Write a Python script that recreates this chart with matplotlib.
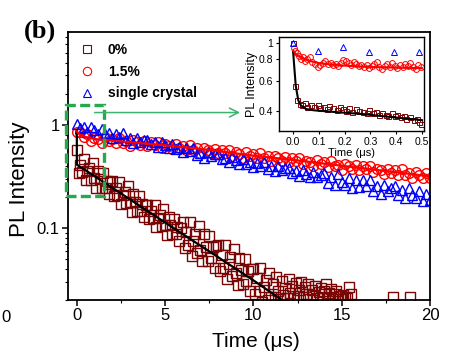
import matplotlib
matplotlib.use("Agg")
import matplotlib.pyplot as plt
from matplotlib import ticker
from matplotlib.patches import Rectangle

plt.rcParams['font.family'] = ['Liberation Sans', 'DejaVu Sans']

# ---- main panel data (time in us, normalised PL intensity) ----
# 0% sample
t_0 = [0.0, 0.1, 0.2, 0.3, 0.4, 0.5, 0.6, 0.7, 0.8, 0.9,
       1.0, 1.1, 1.2, 1.3, 1.4, 1.5, 1.6, 1.7, 1.8, 1.9,
       2.0, 2.1, 2.2, 2.3, 2.4, 2.5, 2.6, 2.7, 2.8, 2.9,
       3.0, 3.1, 3.2, 3.3, 3.4, 3.5, 3.6, 3.7, 3.8, 3.9,
       4.0, 4.1, 4.2, 4.3, 4.4, 4.5, 4.6, 4.7, 4.8, 4.9,
       5.0, 5.1, 5.2, 5.3, 5.4, 5.5, 5.6, 5.7, 5.8, 5.9,
       6.0, 6.1, 6.2, 6.3, 6.4, 6.5, 6.6, 6.7, 6.8, 6.9,
       7.0, 7.1, 7.2, 7.3, 7.4, 7.5, 7.6, 7.7, 7.8, 7.9,
       8.0, 8.1, 8.2, 8.3, 8.4, 8.5, 8.6, 8.7, 8.8, 8.9,
       9.0, 9.1, 9.2, 9.3, 9.4, 9.5, 9.6, 9.7, 9.8, 9.9,
       10.0, 10.1, 10.2, 10.3, 10.4, 10.5, 10.6, 10.7, 10.8, 10.9,
       11.0, 11.1, 11.2, 11.3, 11.4, 11.5, 11.6, 11.7, 11.8, 11.9,
       12.0, 12.1, 12.2, 12.3, 12.4, 12.5, 12.6, 12.7, 12.8, 12.9,
       13.0, 13.1, 13.2, 13.3, 13.4, 13.5, 13.6, 13.7, 13.8, 13.9,
       14.0, 14.1, 14.2, 14.3, 14.4, 14.5, 14.6, 14.7, 14.8, 14.9,
       15.0, 15.1, 15.2, 15.3, 15.4, 15.5, 17.9, 18.85]
pl_0 = [0.57, 0.340, 0.410, 0.350, 0.463, 0.289, 0.352, 0.377, 0.294, 0.423,
        0.301, 0.241, 0.355, 0.299, 0.246, 0.340, 0.245, 0.286, 0.212, 0.281,
        0.282, 0.203, 0.245, 0.209, 0.276, 0.172, 0.210, 0.224, 0.175, 0.252,
        0.180, 0.144, 0.212, 0.179, 0.147, 0.203, 0.146, 0.171, 0.126, 0.168,
        0.168, 0.121, 0.146, 0.124, 0.165, 0.102, 0.125, 0.134, 0.105, 0.151,
        0.107, 0.0858, 0.126, 0.107, 0.0877, 0.121, 0.0873, 0.102, 0.0754, 0.100,
        0.114, 0.0639, 0.0913, 0.0688, 0.114, 0.0538, 0.0749, 0.0876, 0.0569, 0.104,
        0.0608, 0.0474, 0.0865, 0.0656, 0.0475, 0.0830, 0.0509, 0.0647, 0.0406, 0.0669,
        0.0677, 0.0381, 0.0545, 0.0410, 0.0682, 0.0321, 0.0446, 0.0522, 0.0339, 0.0620,
        0.0362, 0.0282, 0.0516, 0.0391, 0.0283, 0.0496, 0.0304, 0.0386, 0.0242, 0.0399,
        0.0403, 0.0227, 0.0325, 0.0244, 0.0406, 0.0190, 0.0266, 0.0311, 0.0202, 0.0369,
        0.0215, 0.0285, 0.0215, 0.0335, 0.0245, 0.0205, 0.0305, 0.0225, 0.0262, 0.0210,
        0.0318, 0.0232, 0.0272, 0.0208, 0.0295, 0.0218, 0.0248, 0.0302, 0.0212, 0.0265,
        0.0228, 0.0285, 0.0206, 0.0252, 0.0222, 0.0275, 0.0210, 0.0238, 0.0262, 0.0214,
        0.0245, 0.0285, 0.0209, 0.0232, 0.0255, 0.0212, 0.0228, 0.0242, 0.0206, 0.0218,
        0.0204, 0.0225, 0.0212, 0.0208, 0.0268, 0.0228, 0.0215, 0.0212]

# 1.5% sample and single crystal share the same time grid
t_grid = [0.0, 0.2, 0.4, 0.6, 0.8, 1.0, 1.2, 1.4, 1.6, 1.8,
          2.0, 2.2, 2.4, 2.6, 2.8, 3.0, 3.2, 3.4, 3.6, 3.8,
          4.0, 4.2, 4.4, 4.6, 4.8, 5.0, 5.2, 5.4, 5.6, 5.8,
          6.0, 6.2, 6.4, 6.6, 6.8, 7.0, 7.2, 7.4, 7.6, 7.8,
          8.0, 8.2, 8.4, 8.6, 8.8, 9.0, 9.2, 9.4, 9.6, 9.8,
          10.0, 10.2, 10.4, 10.6, 10.8, 11.0, 11.2, 11.4, 11.6, 11.8,
          12.0, 12.2, 12.4, 12.6, 12.8, 13.0, 13.2, 13.4, 13.6, 13.8,
          14.0, 14.2, 14.4, 14.6, 14.8, 15.0, 15.2, 15.4, 15.6, 15.8,
          16.0, 16.2, 16.4, 16.6, 16.8, 17.0, 17.2, 17.4, 17.6, 17.8,
          18.0, 18.2, 18.4, 18.6, 18.8, 19.0, 19.2, 19.4, 19.6, 19.8, 20.0]
pl_15 = [0.840, 0.840, 0.762, 0.803, 0.696, 0.747, 0.720, 0.665, 0.753, 0.691,
         0.728, 0.660, 0.745, 0.664, 0.694, 0.622, 0.705, 0.673, 0.628, 0.695,
         0.625, 0.679, 0.636, 0.683, 0.596, 0.649, 0.624, 0.576, 0.650, 0.595,
         0.626, 0.566, 0.638, 0.567, 0.592, 0.529, 0.597, 0.570, 0.531, 0.587,
         0.527, 0.571, 0.534, 0.571, 0.497, 0.540, 0.519, 0.479, 0.541, 0.495,
         0.521, 0.471, 0.531, 0.472, 0.493, 0.440, 0.498, 0.475, 0.442, 0.489,
         0.439, 0.476, 0.445, 0.475, 0.414, 0.449, 0.432, 0.398, 0.451, 0.413,
         0.434, 0.392, 0.442, 0.394, 0.410, 0.366, 0.415, 0.395, 0.368, 0.407,
         0.365, 0.396, 0.369, 0.396, 0.345, 0.374, 0.360, 0.332, 0.374, 0.343,
         0.361, 0.327, 0.368, 0.328, 0.342, 0.305, 0.344, 0.328, 0.306, 0.338, 0.303]
pl_sc = [1.02, 0.931, 0.949, 0.846, 0.943, 0.880, 0.817, 0.899, 0.805, 0.834,
         0.743, 0.811, 0.762, 0.821, 0.703, 0.737, 0.662, 0.746, 0.686, 0.711,
         0.714, 0.643, 0.673, 0.605, 0.678, 0.630, 0.589, 0.653, 0.582, 0.608,
         0.545, 0.593, 0.554, 0.594, 0.513, 0.535, 0.478, 0.541, 0.495, 0.515,
         0.515, 0.461, 0.479, 0.432, 0.482, 0.450, 0.418, 0.465, 0.417, 0.433,
         0.392, 0.426, 0.401, 0.432, 0.375, 0.394, 0.354, 0.399, 0.363, 0.376,
         0.378, 0.341, 0.357, 0.321, 0.360, 0.335, 0.314, 0.348, 0.310, 0.324,
         0.341, 0.275, 0.314, 0.259, 0.329, 0.281, 0.260, 0.305, 0.245, 0.288,
         0.251, 0.293, 0.252, 0.292, 0.226, 0.255, 0.212, 0.260, 0.228, 0.245,
         0.256, 0.207, 0.235, 0.194, 0.246, 0.210, 0.195, 0.228, 0.183, 0.215, 0.186]

# fitted curves
t_fit_0 = [0.0, 0.0, 0.05, 1, 2, 4, 6, 8, 10, 12]
fit_0 = [0.88, 0.41, 0.405, 0.317, 0.245, 0.146, 0.087, 0.052, 0.031, 0.018]
t_fit_15 = [0, 0.2, 0.5, 1, 2, 3, 5, 7.5, 10, 12.5, 15, 17.5, 20]
fit_15 = [0.86, 0.79, 0.76, 0.725, 0.70, 0.676, 0.63, 0.57, 0.50, 0.45, 0.40, 0.355, 0.316]

# ---- inset data (first 0.5 us) ----
ti_0 = [0.0, 0.008, 0.016, 0.025, 0.035, 0.045, 0.055, 0.07, 0.08, 0.095, 0.105,
        0.12, 0.13, 0.14, 0.155, 0.17, 0.18, 0.195, 0.205, 0.215, 0.23, 0.245,
        0.255, 0.27, 0.285, 0.295, 0.31, 0.32, 0.335, 0.345, 0.36, 0.37, 0.385,
        0.395, 0.405, 0.42, 0.43, 0.44, 0.455, 0.47, 0.48, 0.49, 0.495]
pi_0 = [1.0, 0.56, 0.46, 0.44, 0.43, 0.445, 0.42, 0.435, 0.42, 0.43, 0.415,
        0.42, 0.41, 0.425, 0.415, 0.405, 0.42, 0.41, 0.40, 0.415, 0.395, 0.41,
        0.40, 0.395, 0.39, 0.405, 0.39, 0.395, 0.38, 0.39, 0.38, 0.375, 0.39,
        0.375, 0.38, 0.37, 0.375, 0.36, 0.37, 0.355, 0.36, 0.345, 0.335]
ti_15 = [0.003, 0.008, 0.015, 0.022, 0.03, 0.038, 0.046, 0.055, 0.065, 0.075,
         0.085, 0.095, 0.105, 0.115, 0.125, 0.135, 0.145, 0.155, 0.165, 0.175,
         0.185, 0.195, 0.205, 0.215, 0.225, 0.235, 0.245, 0.255, 0.265, 0.275,
         0.285, 0.295, 0.305, 0.315, 0.325, 0.335, 0.345, 0.355, 0.365, 0.375,
         0.385, 0.395, 0.405, 0.415, 0.425, 0.435, 0.445, 0.455, 0.465, 0.475,
         0.485, 0.495]
pi_15 = [0.93, 0.90, 0.87, 0.84, 0.80, 0.83, 0.78, 0.80, 0.82, 0.77,
         0.75, 0.72, 0.74, 0.76, 0.78, 0.75, 0.76, 0.74, 0.75, 0.73,
         0.76, 0.79, 0.78, 0.76, 0.74, 0.77, 0.75, 0.73, 0.74, 0.72,
         0.74, 0.71, 0.73, 0.75, 0.77, 0.72, 0.70, 0.73, 0.75, 0.72,
         0.76, 0.73, 0.71, 0.74, 0.72, 0.75, 0.73, 0.76, 0.72, 0.70,
         0.74, 0.72]
ti_sc = [0.0, 0.097, 0.194, 0.295, 0.391, 0.488]
pi_sc = [1.0, 0.89, 0.95, 0.88, 0.88, 0.88]
ti_fit_0 = [0.0, 0.005, 0.01, 0.02, 0.03, 0.05, 0.08, 0.15, 0.27, 0.35, 0.5]
fi_0 = [0.88, 0.70, 0.56, 0.46, 0.43, 0.41, 0.403, 0.395, 0.383, 0.372, 0.353]
ti_fit_15 = [0.0, 0.01, 0.03, 0.06, 0.1, 0.15, 0.2, 0.3, 0.4, 0.5]
fi_15 = [0.90, 0.86, 0.82, 0.785, 0.76, 0.745, 0.735, 0.722, 0.715, 0.71]

labels = ['0%', '1.5%', 'single crystal']
c_0 = '#7A0505'
c_15 = '#FF0000'
c_sc = '#0000FF'
green = '#22AA4C'

fig = plt.figure(figsize=(4.74, 3.62), dpi=100)
ax = fig.add_axes([68/474, 1-300/362, 362/474, 268/362])

ax.plot(t_0, pl_0, ls='none', marker='s', ms=6.6, mfc='none', mec=c_0, mew=1.0, label=labels[0])
ax.plot(t_grid, pl_15, ls='none', marker='o', ms=7, mfc='none', mec=c_15, mew=1.0, label=labels[1])
ax.plot(t_grid, pl_sc, ls='none', marker='^', ms=7, mfc='none', mec=c_sc, mew=1.0, label=labels[2])
ax.plot(t_fit_0, fit_0, color='black', lw=1.6)
ax.plot(t_fit_15, fit_15, color=c_15, lw=1.6)

ax.set_yscale('log')
ax.set_xlim(-0.5, 20)
ax.set_ylim(0.02, 7.9)
ax.set_xticks([0, 5, 10, 15, 20])
ax.xaxis.set_minor_locator(ticker.MultipleLocator(2.5))
ax.set_yticks([0.1, 1])
ax.yaxis.set_major_formatter(ticker.FuncFormatter(lambda v, p: f'{v:g}'))
ax.yaxis.set_minor_formatter(ticker.NullFormatter())
ax.tick_params(which='major', direction='out', length=4, width=1.1, labelsize=12, pad=2)
ax.tick_params(which='minor', direction='out', length=2.5, width=0.8)
for s in ax.spines.values():
    s.set_linewidth(1.3)

ax.set_ylabel('PL Intensity', fontsize=16)
ax.yaxis.set_label_coords(-0.105, 0.45)
ax.set_xlabel('Time (μs)', fontsize=15)
ax.xaxis.set_label_coords(0.52, -0.12)

leg = ax.legend(loc='upper left', bbox_to_anchor=(-0.005, 1.005), frameon=False,
                prop={'weight': 'bold', 'size': 10}, handlelength=1.2,
                handletextpad=0.9, labelspacing=0.55, borderpad=0.4)
for h in leg.legend_handles:
    h.set_markersize(6)
    h.set_markeredgewidth(0.8)

# zoom box and arrow
ax.add_patch(Rectangle((-0.62, 0.205), 2.15, 1.355, fill=False, ec=green, lw=2.4,
                       ls=(0, (3, 1.3)), clip_on=False, zorder=5))
ax.annotate('', xy=(9.4, 1.31), xytext=(0.85, 1.31),
            arrowprops=dict(arrowstyle='->', color='#3CB371', lw=1.1, mutation_scale=16),
            zorder=5)

# inset
axi = fig.add_axes([279/474, 1-131/362, 145/474, 94/362])
axi.plot(ti_0, pi_0, ls='none', marker='s', ms=3.6, mfc='none', mec=c_0, mew=0.7)
axi.plot(ti_15, pi_15, ls='none', marker='o', ms=4.2, mfc='none', mec=c_15, mew=0.7)
axi.plot(ti_sc, pi_sc, ls='none', marker='^', ms=4, mfc='none', mec=c_sc, mew=0.7)
axi.plot(ti_fit_0, fi_0, color='black', lw=1.5)
axi.plot(ti_fit_15, fi_15, color=c_15, lw=1.5)
axi.set_yscale('log')
axi.set_xlim(-0.055, 0.508)
axi.set_ylim(0.305, 1.08)
axi.set_xticks([0.0, 0.1, 0.2, 0.3, 0.4, 0.5])
axi.xaxis.set_major_formatter(ticker.FormatStrFormatter('%.1f'))
axi.set_yticks([0.4, 0.6, 0.8, 1])
axi.yaxis.set_major_formatter(ticker.FuncFormatter(lambda v, p: f'{v:g}'))
axi.yaxis.set_minor_locator(ticker.NullLocator())
axi.tick_params(which='major', direction='out', length=2.5, width=0.8, labelsize=7.5, pad=1.5)
for s in axi.spines.values():
    s.set_linewidth(1.0)
axi.set_ylabel('PL Intensity', fontsize=9, labelpad=1)
axi.set_xlabel('Time (μs)', fontsize=8, labelpad=1)

fig.text(40/474, 1-31/362, '(b)', fontsize=19, fontweight='bold', family='Liberation Serif',
         ha='center', va='center')
fig.text(1/474, 1-318/362, '0', fontsize=12, ha='left', va='center')

fig.savefig('out.png', dpi=100)
